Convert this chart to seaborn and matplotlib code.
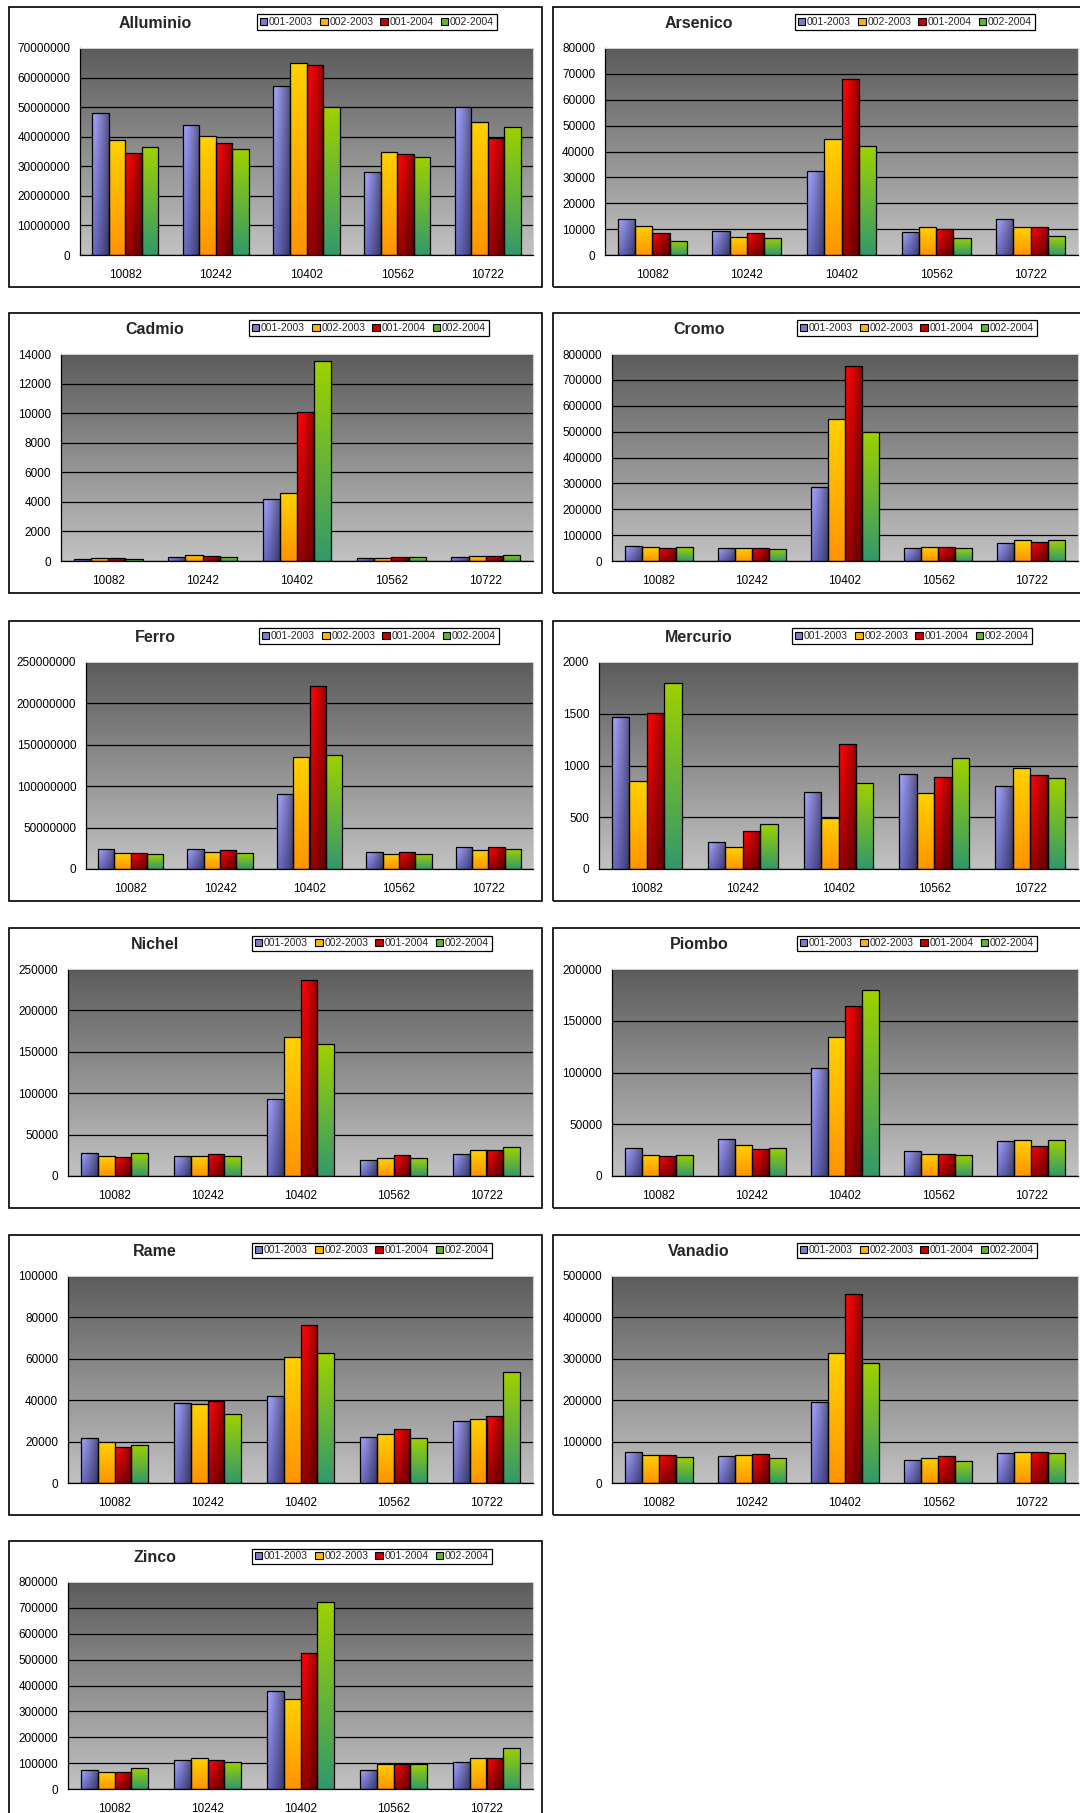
import numpy as np
import pandas as pd
import matplotlib
matplotlib.use("Agg")
import matplotlib.pyplot as plt
import seaborn as sns
from matplotlib.patches import Rectangle, Patch
from matplotlib.ticker import MultipleLocator, FuncFormatter, FixedLocator

# ---------------- data ----------------
sites = ["10082", "10242", "10402", "10562", "10722"]
series = ["001-2003", "002-2003", "001-2004", "002-2004"]

# each element: one list per series (in the order of `series`), one value per site
alluminio = [[48.0e6, 44.0e6, 57.0e6, 28.0e6, 50.0e6],
             [39.0e6, 40.4e6, 65.0e6, 35.0e6, 45.0e6],
             [34.6e6, 38.0e6, 64.4e6, 34.0e6, 39.7e6],
             [36.4e6, 36.0e6, 50.0e6, 33.3e6, 43.2e6]]
arsenico = [[13900, 9400, 32300, 9000, 13900],
            [11400, 6800, 44800, 10800, 10700],
            [8600, 8500, 67900, 10000, 10700],
            [5500, 6600, 42000, 6700, 7200]]
cadmio = [[160, 290, 4220, 225, 290],
          [225, 430, 4580, 225, 360],
          [180, 340, 10090, 290, 360],
          [135, 290, 13500, 250, 380]]
cromo = [[59000, 49000, 285000, 49000, 69600],
         [53000, 49000, 549000, 55400, 80000],
         [51500, 51500, 755000, 55400, 74700],
         [53000, 46400, 499000, 49000, 81000]]
ferro = [[24.6e6, 23.8e6, 91.0e6, 20.1e6, 26.2e6],
         [19.3e6, 20.1e6, 134.9e6, 18.5e6, 22.9e6],
         [19.3e6, 22.9e6, 221.0e6, 20.1e6, 26.2e6],
         [18.1e6, 18.9e6, 137.7e6, 17.7e6, 24.2e6]]
mercurio = [[1469, 258, 741, 921, 799],
            [850, 209, 493, 731, 973],
            [1504, 364, 1205, 889, 911],
            [1800, 432, 831, 1069, 879]]
nichel = [[27800, 23800, 93400, 18900, 27000],
          [24200, 23800, 167500, 21300, 31000],
          [22500, 26600, 236300, 25000, 31000],
          [27400, 23800, 159000, 21300, 34600]]
piombo = [[27100, 35800, 104500, 24200, 34200],
          [20300, 30000, 134500, 21600, 34800],
          [19700, 25800, 164500, 21600, 29400],
          [20600, 27400, 179400, 20000, 34800]]
rame = [[21800, 38500, 41900, 22000, 30100],
        [19900, 38000, 61000, 23900, 31100],
        [17600, 39500, 76500, 26000, 32200],
        [18400, 33300, 62900, 21500, 53600]]
vanadio = [[75900, 66200, 194700, 56500, 71900],
           [68700, 67000, 315000, 60600, 74300],
           [68700, 71100, 456400, 66200, 75900],
           [63800, 61400, 289200, 54100, 73500]]
zinco = [[72300, 112000, 379000, 72300, 104500],
         [64500, 118700, 348000, 96800, 118700],
         [64500, 113500, 524000, 96800, 120000],
         [80000, 104500, 722600, 95500, 160000]]

titles = ["Alluminio", "Arsenico", "Cadmio", "Cromo", "Ferro", "Mercurio",
          "Nichel", "Piombo", "Rame", "Vanadio", "Zinco"]
values = [alluminio, arsenico, cadmio, cromo, ferro, mercurio,
          nichel, piombo, rame, vanadio, zinco]
y_max = [70e6, 80000, 14000, 800000, 250e6, 2000, 250000, 200000, 100000, 500000, 800000]
y_step = [10e6, 10000, 2000, 100000, 50e6, 500, 50000, 50000, 20000, 100000, 100000]

# ---------------- layout (pixels of the 1080x1813 canvas) ----------------
W, H = 1080, 1813
row_tops = [7, 313, 621, 928, 1235, 1541]
box_left = [9, 553]
box_width = [533, 580]
box_height = 280
plot_left = [80, 605, 61, 612, 86, 599, 68, 612, 68, 612, 68]
plot_right = [533, 1078]
legend_left = [257, 795, 249, 797, 259, 792, 252, 797, 252, 797, 252]

swatch = ["#7b7bd0", "#ffb400", "#cc0000", "#66b033"]

sns.set_style("white")
plt.rcParams["font.family"] = ["Liberation Sans", "DejaVu Sans"]

fig = plt.figure(figsize=(W / 100, H / 100), dpi=100)
fig.patch.set_facecolor("white")


def lerp(a, b, t):
    a = np.array(a)[None, None, :]
    b = np.array(b)[None, None, :]
    return a + (b - a) * t[..., None]


ny, nx = 64, 32
ty = np.linspace(0, 1, ny)[:, None] * np.ones((1, nx))
tx = np.ones((ny, 1)) * np.linspace(0, 1, nx)[None, :]


def gradient(j):
    if j == 0:  # lavender-blue, dark to the right and bottom
        base = lerp((0.64, 0.64, 1.0), (0.42, 0.42, 0.78), ty)
        shade = 1 - 0.48 * tx ** 1.3
        return np.clip(base * shade[..., None], 0, 1)
    if j == 1:  # yellow-orange vertical
        return lerp((1.0, 0.82, 0.0), (1.0, 0.58, 0.0), ty)
    if j == 2:  # red, dark to the right and bottom
        base = lerp((1.0, 0.02, 0.02), (0.62, 0.0, 0.0), ty)
        shade = 1 - 0.45 * tx ** 1.4
        return np.clip(base * shade[..., None], 0, 1)
    return lerp((0.62, 0.82, 0.0), (0.20, 0.60, 0.42), ty)  # green vertical


grads = [gradient(j) for j in range(4)]
bg = lerp((0.36, 0.36, 0.36), (0.76, 0.76, 0.76), np.linspace(0, 1, 128)[:, None] * np.ones((1, 2)))

for i, (name, vals) in enumerate(zip(titles, values)):
    row, col = divmod(i, 2)
    T = row_tops[row]

    # panel frame
    fig.add_artist(Rectangle((box_left[col] / W, 1 - (T + box_height) / H),
                             box_width[col] / W, box_height / H,
                             transform=fig.transFigure, fill=False,
                             edgecolor="black", linewidth=1.2))
    fig.text((box_left[col] + 146) / W, 1 - (T + 17) / H, name,
             ha="center", va="center", fontsize=11.5, fontweight="bold")

    l = plot_left[i]
    r = plot_right[col]
    top = T + 41
    bot = T + 248
    ax = fig.add_axes([l / W, 1 - bot / H, (r - l) / W, (bot - top) / H])

    df = pd.DataFrame({
        "site": np.repeat([sites], 4, axis=0).ravel(),
        "series": np.repeat(series, len(sites)),
        "value": np.array(vals, dtype=float).ravel(),
    })
    sns.barplot(data=df, x="site", y="value", hue="series", order=sites,
                hue_order=series, palette=swatch, width=0.73, errorbar=None,
                edgecolor="black", linewidth=0.9, legend=False, ax=ax)

    # gradient fills clipped to each bar
    for j, cont in enumerate(ax.containers):
        for bar in cont:
            x0, y0 = bar.get_x(), bar.get_y()
            w, h = bar.get_width(), bar.get_height()
            im = ax.imshow(grads[j], extent=[x0, x0 + w, y0, y0 + h],
                           aspect="auto", interpolation="bilinear", zorder=1.5)
            im.set_clip_path(bar)
            bar.set_facecolor("none")
            bar.set_zorder(2)

    ax.imshow(bg, extent=[0, 1, 0, 1], transform=ax.transAxes, aspect="auto",
              interpolation="bilinear", zorder=0)

    ax.set_xlim(-0.5, len(sites) - 0.5)
    ax.set_ylim(0, y_max[i])
    ax.yaxis.set_major_locator(MultipleLocator(y_step[i]))
    ax.yaxis.set_major_formatter(FuncFormatter(lambda v, p: f"{v:.0f}"))
    ax.xaxis.set_minor_locator(FixedLocator(np.arange(-0.5, len(sites), 1.0)))
    ax.grid(axis="y", color="black", linewidth=0.9)
    ax.set_axisbelow(True)
    ax.set_xlabel("")
    ax.set_ylabel("")

    ax.tick_params(axis="x", which="major", length=0, pad=10, labelsize=8.5, colors="black")
    ax.tick_params(axis="x", which="minor", length=5, width=0.9, color="black", direction="out")
    ax.tick_params(axis="y", which="major", length=5, width=0.9, color="black",
                   direction="out", pad=2, labelsize=8.5, labelcolor="black")
    for s in ["left", "bottom"]:
        ax.spines[s].set_color("black")
        ax.spines[s].set_linewidth(0.9)
    for s in ["top", "right"]:
        ax.spines[s].set_color("#d0d0d0")
        ax.spines[s].set_linewidth(0.8)

    handles = [Patch(facecolor=c, edgecolor="black", linewidth=0.8) for c in swatch]
    leg = ax.legend(handles, series, loc="upper left",
                    bbox_to_anchor=(legend_left[i] / W, 1 - (T + 7.5) / H),
                    bbox_transform=fig.transFigure, ncol=4, fontsize=7.5,
                    handlelength=0.75, handleheight=0.75, handletextpad=0.15,
                    columnspacing=0.67, borderpad=0.25, borderaxespad=0,
                    frameon=True, fancybox=False, framealpha=1, edgecolor="black")
    leg.get_frame().set_linewidth(0.9)

fig.savefig("out.png", dpi=100, facecolor="white")
